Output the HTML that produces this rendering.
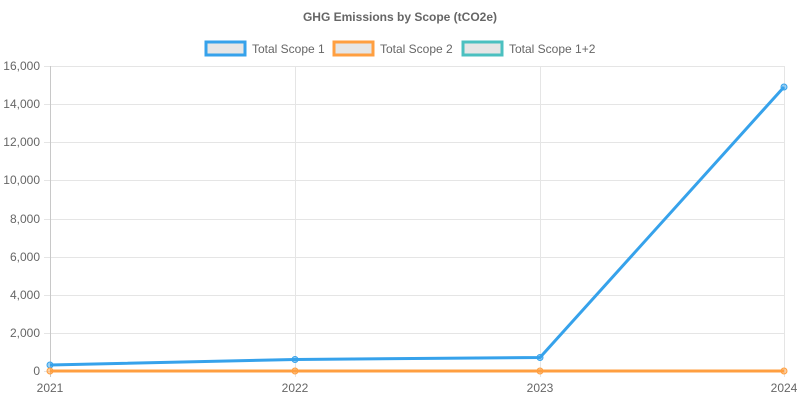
<!DOCTYPE html>
<html><head><style>
body{margin:0;background:#fff;}
svg text{font-family:"Liberation Sans",Arial,sans-serif;fill:#666;}
</style></head><body>
<svg width="800" height="400" xmlns="http://www.w3.org/2000/svg">
<text x="400" y="21" text-anchor="middle" font-size="12" font-weight="bold">GHG Emissions by Scope (tCO2e)</text>
<rect x="206" y="42" width="39" height="13" fill="#e6e6e6" stroke="#36a2eb" stroke-width="3"/>
<text x="252" y="53" font-size="12">Total Scope 1</text>
<rect x="334" y="42" width="39" height="13" fill="#e6e6e6" stroke="#ff9f40" stroke-width="3"/>
<text x="380" y="53" font-size="12">Total Scope 2</text>
<rect x="463" y="42" width="39" height="13" fill="#e6e6e6" stroke="#4bc0c0" stroke-width="3"/>
<text x="509" y="53" font-size="12">Total Scope 1+2</text>
<g stroke="#e5e5e5" stroke-width="1">
<line x1="44" y1="66.5" x2="784" y2="66.5"/>
<line x1="44" y1="104.5" x2="784" y2="104.5"/>
<line x1="44" y1="142.5" x2="784" y2="142.5"/>
<line x1="44" y1="180.5" x2="784" y2="180.5"/>
<line x1="44" y1="219.5" x2="784" y2="219.5"/>
<line x1="44" y1="257.5" x2="784" y2="257.5"/>
<line x1="44" y1="295.5" x2="784" y2="295.5"/>
<line x1="44" y1="333.5" x2="784" y2="333.5"/>
<line x1="44" y1="371.5" x2="784" y2="371.5"/>
<line x1="295.5" y1="66" x2="295.5" y2="377"/>
<line x1="540.5" y1="66" x2="540.5" y2="377"/>
<line x1="784.5" y1="66" x2="784.5" y2="377"/>
</g>
<line x1="50.5" y1="66" x2="50.5" y2="377" stroke="#c8c8c8"/>
<g font-size="12" text-anchor="end">
<text x="40" y="70">16,000</text><text x="40" y="108">14,000</text><text x="40" y="146">12,000</text>
<text x="40" y="184">10,000</text><text x="40" y="223">8,000</text><text x="40" y="261">6,000</text>
<text x="40" y="299">4,000</text><text x="40" y="337">2,000</text><text x="40" y="375">0</text>
</g>
<g font-size="12" text-anchor="middle">
<text x="50" y="392">2021</text><text x="295" y="392">2022</text><text x="540" y="392">2023</text><text x="784" y="392">2024</text>
</g>
<polyline points="50,365 295,359.5 540,357.5 784,87" fill="none" stroke="#36a2eb" stroke-width="3"/>
<g fill="rgba(54,162,235,0.5)" stroke="#36a2eb" stroke-width="1">
<circle cx="50" cy="365" r="3"/><circle cx="295" cy="359.5" r="3"/><circle cx="540" cy="357.5" r="3"/><circle cx="784" cy="87" r="3"/>
</g>
<line x1="50" y1="371" x2="784" y2="371" stroke="#ff9f40" stroke-width="3"/>
<g fill="rgba(255,159,64,0.5)" stroke="#ff9f40" stroke-width="1">
<circle cx="50" cy="371" r="3"/><circle cx="295" cy="371" r="3"/><circle cx="540" cy="371" r="3"/><circle cx="784" cy="371" r="3"/>
</g>
</svg>
</body></html>
